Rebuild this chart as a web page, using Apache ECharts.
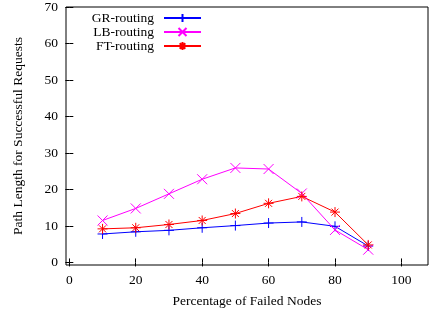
<!DOCTYPE html>
<html>
<head>
<meta charset="utf-8">
<script src="https://cdn.jsdelivr.net/npm/echarts@6/dist/echarts.min.js"></script>
<style>
  html, body { margin: 0; padding: 0; background: #fff; }
  #chart { width: 429px; height: 313px; }
</style>
</head>
<body>
<div id="chart"></div>
<script>
// failed node percentages
let xValues = [10, 20, 30, 40, 50, 60, 70, 80, 90];
let grRouting = [7.8, 8.4, 8.8, 9.5, 10.1, 10.8, 11.1, 9.9, 4.5];
let lbRouting = [11.5, 14.8, 18.8, 22.8, 25.9, 25.6, 18.9, 8.9, 3.5];
let ftRouting = [9.2, 9.5, 10.4, 11.5, 13.4, 16.2, 18.1, 13.8, 4.8];
let xTicks = [0, 20, 40, 60, 80, 100];
let yTicks = [0, 10, 20, 30, 40, 50, 60, 70];

let seriesNames = ['GR-routing', 'LB-routing', 'FT-routing'];
let seriesColors = ['#0000ff', '#ff00ff', '#ff0000'];

// gnuplot style point symbols
let plusSym = 'path://M0,5 L10,5 M5,0 L5,10';
let crossSym = 'path://M0,0 L10,10 M0,10 L10,0';
let starSym = 'path://M0,5 L10,5 M5,0 L5,10 M1.5,1.5 L8.5,8.5 M1.5,8.5 L8.5,1.5';

let font = 'Liberation Serif';
let fs = 13.5;

function pairs(arr) {
    return arr.map(function (v, i) { return [xValues[i], v]; });
}

function makeSeries(name, data, color, sym) {
    return {
        name: name,
        type: 'line',
        data: pairs(data),
        symbol: sym,
        symbolSize: 10,
        showSymbol: true,
        lineStyle: {color: color, width: 1},
        itemStyle: {color: 'none', borderColor: color, borderWidth: 1},
        emphasis: {disabled: true},
        animation: false
    };
}

function tickAxis(pos, min, max, ticks) {
    return {
        type: 'value',
        position: pos,
        min: min,
        max: max,
        axisLine: {show: false},
        splitLine: {show: false},
        axisTick: {inside: true, length: 4, lineStyle: {color: '#000'}, customValues: ticks},
        axisLabel: {show: false}
    };
}

let chart = echarts.init(document.getElementById('chart'), null, {renderer: 'canvas'});
chart.setOption({
    backgroundColor: '#fff',
    textStyle: {fontFamily: font},
    grid: {left: 66, top: 7, right: 1, bottom: 48, show: true, borderColor: '#000', borderWidth: 1},
    legend: {
        orient: 'vertical',
        right: 227,
        top: 11,
        padding: 0,
        align: 'right',
        itemWidth: 37,
        itemHeight: 10,
        itemGap: 0,
        textStyle: {fontFamily: font, fontSize: fs, color: '#000', lineHeight: 14, padding: [0, 5, 0, 0]},
        data: seriesNames
    },
    xAxis: [{
        type: 'value',
        min: -1,
        max: 108,
        name: 'Percentage of Failed Nodes',
        nameLocation: 'middle',
        nameGap: 29,
        nameTextStyle: {fontFamily: font, fontSize: fs, color: '#000'},
        axisLine: {show: false},
        splitLine: {show: false},
        axisTick: {inside: true, length: 4, lineStyle: {color: '#000'}, customValues: xTicks},
        axisLabel: {fontFamily: font, fontSize: fs, color: '#000', margin: 8, customValues: xTicks}
    }, tickAxis('top', -1, 108, xTicks)],
    yAxis: [{
        type: 'value',
        min: -0.7,
        max: 70,
        name: 'Path Length for Successful Requests',
        nameLocation: 'middle',
        nameGap: 41,
        nameTextStyle: {fontFamily: font, fontSize: fs, color: '#000'},
        axisLine: {show: false},
        splitLine: {show: false},
        axisTick: {inside: true, length: 4, lineStyle: {color: '#000'}, customValues: yTicks},
        axisLabel: {fontFamily: font, fontSize: fs, color: '#000', margin: 8, customValues: yTicks}
    }, tickAxis('right', -0.7, 70, yTicks)],
    series: [
        makeSeries(seriesNames[0], grRouting, seriesColors[0], plusSym),
        makeSeries(seriesNames[1], lbRouting, seriesColors[1], crossSym),
        makeSeries(seriesNames[2], ftRouting, seriesColors[2], starSym)
    ]
});
</script>
</body>
</html>
